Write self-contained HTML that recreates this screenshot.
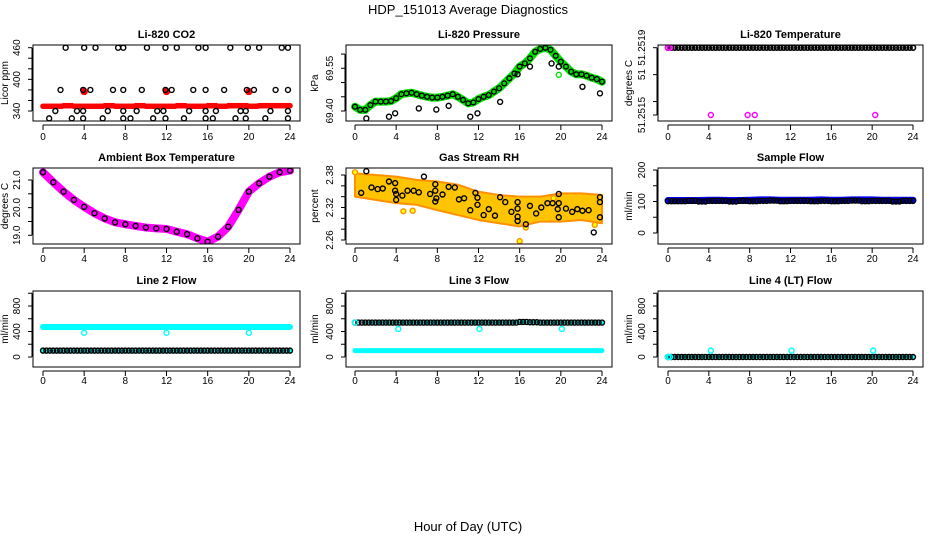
<!DOCTYPE html>
<html><head><meta charset="utf-8"><style>
html,body{margin:0;padding:0;background:#fff}
svg{display:block;font-family:"Liberation Sans",sans-serif}
</style></head><body>
<svg id="c" width="936" height="540" viewBox="0 0 936 540" xmlns="http://www.w3.org/2000/svg">
<text x="468" y="14" text-anchor="middle" font-size="13">HDP_151013  Average Diagnostics</text>
<text x="468" y="531" text-anchor="middle" font-size="13">Hour of Day (UTC)</text>
</svg>
<script>
// ---- data ----
const xTicks=[0,4,8,12,16,20,24];
const hourSlots=[0,1,2,3,4,5,6,7,8,9,10,11,12,13,14,15,16,17,18,19,20,21,22,23,24];
const co2Red=[349,349,350,349,349,349,350,349,349,350,349,349,349,350,349,349,350,349,350,350,349,350,350,350,350];
const co2RedOutH=[4,12,20];
const co2RedOutV=[377,377,377];
const co2BlkH=[2.2,4,5.1,7.3,7.8,10.1,11.9,13,15.1,15.8,18.2,19.9,21,23.2,23.8,1.7,3.9,4.6,6.8,7.8,9.6,11.9,12.5,14.6,15.8,17.6,19.8,20.5,22.6,23.8,1.2,3.3,3.9,6.3,7.8,9.1,11.1,11.7,14.2,15.8,16.8,19.2,19.7,22.1,23.8,0.6,2.8,3.9,5.8,7.8,8.5,10.7,11.9,13.7,15.8,16.5,18.7,19.7,21.6,23.8];
const co2BlkV=[460,460,460,460,460,460,460,460,460,460,460,460,460,460,460,380,380,380,380,380,380,380,380,380,380,380,380,380,380,380,340,340,340,340,340,340,340,340,340,340,340,340,340,340,340,326,326,326,326,326,326,326,326,326,326,326,326,326,326,326];
const presH=[0,0.5,1,1.5,2,2.5,3,3.5,4,4.5,5,5.5,6,6.5,7,7.5,8,8.5,9,9.5,10,10.5,11,11.5,12,12.5,13,13.5,14,14.5,15,15.5,16,16.5,17,17.5,18,18.5,19,19.5,20,20.5,21,21.5,22,22.5,23,23.5,24];
const presV=[69.415,69.404,69.404,69.421,69.433,69.433,69.433,69.435,69.445,69.459,69.462,69.464,69.459,69.454,69.450,69.447,69.447,69.450,69.454,69.459,69.450,69.439,69.427,69.430,69.442,69.450,69.456,69.468,69.480,69.497,69.515,69.532,69.556,69.567,69.585,69.608,69.618,69.622,69.615,69.594,69.573,69.556,69.538,69.529,69.529,69.524,69.517,69.512,69.503];
const presOutH=[1.1,3.3,3.9,6.2,7.9,9.1,11.2,11.9,14.1,15.8,17,19.1,19.8,22.1,23.8];
const presOutV=[69.374,69.380,69.392,69.409,69.405,69.418,69.380,69.392,69.432,69.529,69.556,69.567,69.556,69.485,69.462];
const liTemp=[51.2519,51.2519,51.2519,51.2519,51.2519,51.2519,51.2519,51.2519,51.2519,51.2519,51.2519,51.2519,51.2519,51.2519,51.2519,51.2519,51.2519,51.2519,51.2519,51.2519,51.2519,51.2519,51.2519,51.2519,51.2519];
const liTempOutH=[0,0.2,4.2,7.8,8.5,20.3];
const liTempOutV=[51.2519,51.2519,51.2515,51.2515,51.2515,51.2515];
const ambV=[21.28,20.92,20.58,20.28,20.03,19.80,19.61,19.47,19.40,19.34,19.28,19.25,19.23,19.13,19.04,18.89,18.77,18.95,19.31,19.92,20.58,20.88,21.12,21.28,21.34];
const rhBandH=[0,2,4,6,8,10,12,14,16,18,20,22,24];
const rhBandHi=[2.383,2.380,2.377,2.371,2.368,2.362,2.349,2.343,2.340,2.340,2.346,2.346,2.343];
const rhBandLo=[2.340,2.334,2.328,2.325,2.315,2.306,2.297,2.291,2.285,2.294,2.294,2.297,2.291];
const rhOrgH=[0,4.7,5.6,16,16.6,23.3,19.3];
const rhOrgV=[2.385,2.313,2.314,2.258,2.283,2.288,2.337];
const rhBlkH=[0.6,1.1,1.6,2.2,2.7,3.3,3.9,3.9,4,4,4.6,5.1,5.7,6.2,6.7,7.3,7.8,7.8,7.9,7.8,8.5,9.1,9.7,10.1,10.6,11.2,11.7,11.9,11.9,12.5,13,13.6,14.1,14.6,15.2,15.8,15.8,15.8,15.8,16.6,17,17.6,18.1,18.7,19.2,19.7,19.8,19.8,19.8,20.5,21.1,21.6,22.1,22.7,23.2,23.8,23.8,23.8];
const rhBlkV=[2.347,2.387,2.357,2.354,2.355,2.368,2.365,2.351,2.345,2.334,2.342,2.351,2.351,2.348,2.377,2.345,2.363,2.351,2.337,2.331,2.344,2.358,2.357,2.335,2.337,2.315,2.347,2.338,2.325,2.306,2.317,2.305,2.339,2.330,2.312,2.330,2.318,2.303,2.295,2.289,2.323,2.309,2.320,2.328,2.328,2.317,2.328,2.345,2.302,2.318,2.312,2.317,2.314,2.315,2.274,2.302,2.330,2.339];
const sampBlue=[103,103,103,103,104,104,103,103,104,105,105,104,104,104,104,105,104,104,105,105,105,104,104,104,104];
const sampBlk=[101,101,102,100,102,102,100,102,101,102,103,101,102,102,101,102,101,102,103,101,102,102,100,102,102];
const line2Cyan=[470,470,470,470,470,470,470,470,470,470,470,470,470,470,470,470,470,470,470,470,470,470,470,470,470];
const line2Blk=[100,100,100,100,100,100,100,100,100,100,100,100,100,100,100,100,100,100,100,100,100,100,100,100,100];
const line2OutH=[4,12,20];
const line2OutV=[380,380,380];
const line3Blk=[540,540,540,540,540,540,540,540,540,540,540,540,540,540,540,540,550,545,540,540,540,540,540,540,540];
const line3Cyan=[100,100,100,100,100,100,100,100,100,100,100,100,100,100,100,100,100,100,100,100,100,100,100,100,100];
const line3OutH=[0,4.2,12.1,20.1];
const line3OutV=[540,440,440,440];
const line4Blk=[0,0,0,0,0,0,0,0,0,0,0,0,0,0,0,0,0,0,0,0,0,0,0,0,0];
const line4OutH=[0,0.2,4.2,12.1,20.1];
const line4OutV=[0,0,100,100,100];

// ---- layout ----
const NS="http://www.w3.org/2000/svg";
const svg=document.getElementById('c');
const cols=[{l:33,r:300,x0:43,x24:290,tl:20,yl:8},{l:346,r:612,x0:355,x24:602,tl:333,yl:318},{l:658,r:923,x0:668,x24:913,tl:645,yl:632}];
const rows=[{t:45,b:121,lab:140},{t:168,b:244,lab:262},{t:291,b:367,lab:384}];
function el(tag,attrs,parent){const e=document.createElementNS(NS,tag);for(const k in attrs)e.setAttribute(k,attrs[k]);(parent||svg).appendChild(e);return e;}
function panel(name,title,ylab,ci,ri,v1,p1,v2,p2,ticks,labels){
  const c=cols[ci],r=rows[ri];
  const g=el('g',{});
  
  
  const P={g:g,x:h=>c.x0+(c.x24-c.x0)*h/24,y:v=>p1+(v-v1)*(p2-p1)/(v2-v1)};
  const clip=el('clipPath',{id:'cl'+name},g);el('rect',{x:c.l,y:r.t,width:c.r-c.l,height:r.b-r.t},clip);
  P.plot=el('g',{'clip-path':'url(#cl'+name+')'},g);
  
  
  const tt=el('text',{x:(c.l+c.r)/2,y:r.t-7,'text-anchor':'middle','font-size':'11','font-weight':'bold'},g);tt.textContent=title;
  
  
  const fr=el('rect',{x:c.l,y:r.t,width:c.r-c.l,height:r.b-r.t,fill:'none',stroke:'#000','stroke-width':1},g);
  
  
  const ax=r.b+4;
  el('line',{x1:P.x(0),x2:P.x(24),y1:ax,y2:ax,stroke:'#000'},g);
  xTicks.forEach(h=>{el('line',{x1:P.x(h),x2:P.x(h),y1:ax,y2:ax+5,stroke:'#000'},g);
    const t=el('text',{x:P.x(h),y:r.lab,'text-anchor':'middle','font-size':'10'},g);t.textContent=h;
    
    });
  const ys=ticks.map(P.y);
  el('line',{x1:c.l-1,x2:c.l-1,y1:Math.min(...ys),y2:Math.max(...ys),stroke:'#000'},g);
  ticks.forEach((v,i)=>{const y=P.y(v);el('line',{x1:c.l-5,x2:c.l-1,y1:y,y2:y,stroke:'#000'},g);
    if(labels[i]){const t=el('text',{x:c.tl,y:y,'text-anchor':'middle','font-size':'10',transform:'rotate(-90 '+c.tl+' '+y+')'},g);t.textContent=labels[i];
    
    }});
  const yt=el('text',{x:c.yl,y:(r.t+r.b)/2,'text-anchor':'middle','font-size':'10',transform:'rotate(-90 '+c.yl+' '+(r.t+r.b)/2+')'},g);yt.textContent=ylab;
  
  
  return P;
}
function pts(P,H,V,opt,nm){const g=el('g',{},P.plot);
  
  
  H.forEach((h,i)=>{el('circle',{cx:P.x(h),cy:P.y(V[i]),r:opt.r||2.5,fill:opt.fill||'none',stroke:opt.stroke||'#000','stroke-width':opt.sw||1.4},g);});}
function dense(P,V,n,opt,nm){const H=[],VV=[];V.forEach((v,i)=>{for(let k=0;k<n;k++){const h=i+k/n;if(h<=24){H.push(h);VV.push(v);}}});pts(P,H,VV,opt,nm);}
function band(P,H,V,color,w,nm){const p=el('polyline',{points:H.map((h,i)=>P.x(h)+','+P.y(V[i])).join(' '),fill:'none',stroke:color,'stroke-width':w,'stroke-linejoin':'round','stroke-linecap':'round'},P.plot);
  
  }

let P=panel('co2','Li-820 CO2','Licor ppm',0,0,460,47.7,340,111,[340,360,380,400,420,440,460],['340','','','400','','','460']);
dense(P,co2Red,6,{fill:'#f00',stroke:'#f00',r:2.3,sw:1},'co2-red-series');
pts(P,co2RedOutH,co2RedOutV,{fill:'#f00',stroke:'#f00',r:3},'co2-red-outliers');
pts(P,co2BlkH,co2BlkV,{},'co2-black-points');

P=panel('pressure','Li-820 Pressure','kPa',1,0,69.40,111,69.55,68.3,[69.40,69.45,69.50,69.55,69.60],['69.40','','','69.55','']);
band(P,presH,presV,'#00e000',8,'pressure-green-series');
pts(P,presH,presV,{r:2.4},'pressure-black-points');
pts(P,presOutH,presOutV,{},'pressure-outliers');
pts(P,[19.8],[69.527],{stroke:'#00e000'},'pressure-green-outlier');

P=panel('li-temp','Li-820 Temperature','degrees C',2,0,51.2519,47.7,51.2515,115,[51.2515,51.25158,51.25174,51.2519],['51.2515','','51','51.2519']);
dense(P,liTemp,3,{sw:1.6},'li-temp-black-points');
pts(P,liTempOutH,liTempOutV,{stroke:'#f0f'},'li-temp-magenta-points');

P=panel('ambient','Ambient Box Temperature','degrees C',0,1,21.0,180,19.0,235.3,[19.0,19.5,20.0,20.5,21.0],['19.0','','20.0','','21.0']);
band(P,hourSlots,ambV,'#f0f',8,'ambient-magenta-series');
pts(P,hourSlots,ambV,{},'ambient-black-points');

P=panel('rh','Gas Stream RH','percent',1,1,2.38,175,2.26,240,[2.26,2.28,2.30,2.32,2.34,2.36,2.38],['2.26','','','2.32','','','2.38']);
const rhp=el('polygon',{points:rhBandH.map((h,i)=>P.x(h)+','+P.y(rhBandHi[i])).concat(rhBandH.slice().reverse().map((h,i)=>P.x(h)+','+P.y(rhBandLo[rhBandH.length-1-i]))).join(' '),fill:'#ffc400',stroke:'#ff9000','stroke-width':2,'stroke-linejoin':'round'},P.plot);


pts(P,rhOrgH,rhOrgV,{stroke:'#ff9000',fill:'#ff0'},'rh-orange-outliers');
pts(P,rhBlkH,rhBlkV,{},'rh-black-points');

P=panel('sample-flow','Sample Flow','ml/min',2,1,200,170,0,233,[0,50,100,150,200],['0','','100','','200']);
band(P,hourSlots,sampBlue,'#0000ff',7,'sample-flow-blue-series');
dense(P,sampBlk,3,{},'sample-flow-black-points');

const fT=[0,200,400,600,800,1000],fL=['0','','400','','800',''];
P=panel('line2','Line 2 Flow','ml/min',0,2,0,357,800,306,fT,fL);
band(P,hourSlots,line2Cyan,'#00ffff',6,'line2-cyan-series');
band(P,hourSlots,line2Blk,'#00ffff',5,'line2-cyan-low-series');
dense(P,line2Blk,3,{},'line2-black-points');
pts(P,line2OutH,line2OutV,{stroke:'#00ffff'},'line2-cyan-outliers');

P=panel('line3','Line 3 Flow','ml/min',1,2,0,357,800,306,fT,fL);
band(P,hourSlots,line3Cyan,'#00ffff',5,'line3-cyan-series');
band(P,hourSlots.slice(1),line3Blk.slice(1),'#00ffff',4,'line3-cyan-high-series');
dense(P,line3Blk,3,{},'line3-black-points');
pts(P,line3OutH,line3OutV,{stroke:'#00ffff'},'line3-cyan-outliers');

P=panel('line4','Line 4 (LT) Flow','ml/min',2,2,0,357,800,306,fT,fL);
band(P,hourSlots,line4Blk,'#00ffff',4,'line4-cyan-series');
dense(P,line4Blk,3,{},'line4-black-points');
pts(P,line4OutH,line4OutV,{stroke:'#00ffff'},'line4-cyan-outliers');
</script>
</body></html>
